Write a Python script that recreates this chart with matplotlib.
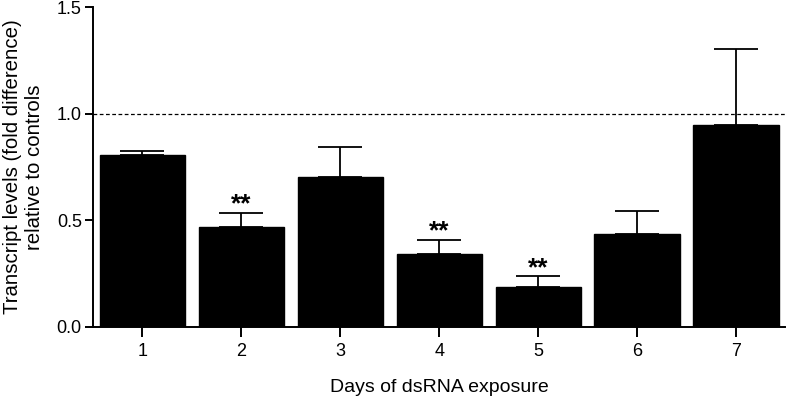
import numpy as np
import matplotlib.pyplot as plt

plt.rcParams['font.family'] = ['Liberation Sans', 'DejaVu Sans']

days = [1, 2, 3, 4, 5, 6, 7]
means = [0.807, 0.470, 0.705, 0.342, 0.188, 0.437, 0.948]
errs = [0.016, 0.066, 0.138, 0.067, 0.050, 0.108, 0.358]
signif = ["", "**", "", "**", "**", "", ""]

fig = plt.figure(figsize=(7.87, 4.0), dpi=100)
ax = fig.add_axes([0.118, 0.183, 0.88, 0.799])

x = np.array(days)
ax.bar(x, means, width=0.86, color="k", edgecolor="k", zorder=2)
ax.errorbar(x, means, yerr=[np.zeros(len(errs)), errs], fmt="none",
            ecolor="k", elinewidth=1.3, capsize=15.5, capthick=1.3, zorder=3)

for xi, m, e, s in zip(x, means, errs, signif):
    if s:
        ax.text(xi, m + e + 0.005, s, ha="center", va="baseline",
                fontsize=19, fontweight="bold")

ax.axhline(1.0, ls=(0, (3, 2)), c="k", lw=0.9, zorder=1)

ax.set_xlim(0.5, 7.5)
ax.set_ylim(0, 1.5)
ax.set_yticks([0.0, 0.5, 1.0, 1.5])
ax.set_yticklabels(["0.0", "0.5", "1.0", "1.5"])
ax.set_xticks(x)
ax.spines["top"].set_visible(False)
ax.spines["right"].set_visible(False)
ax.spines["left"].set_linewidth(1.4)
ax.spines["bottom"].set_linewidth(1.4)
ax.tick_params(axis="y", length=6, width=1.4, labelsize=13, pad=2)
ax.tick_params(axis="x", length=7, width=1.4, labelsize=13, pad=5)

ax.set_xlabel("Days of dsRNA exposure", fontsize=14, labelpad=13)
ax.set_ylabel("Transcript levels (fold difference)\nrelative to controls", fontsize=14.7, labelpad=9)

fig.savefig("out.png", dpi=100)
